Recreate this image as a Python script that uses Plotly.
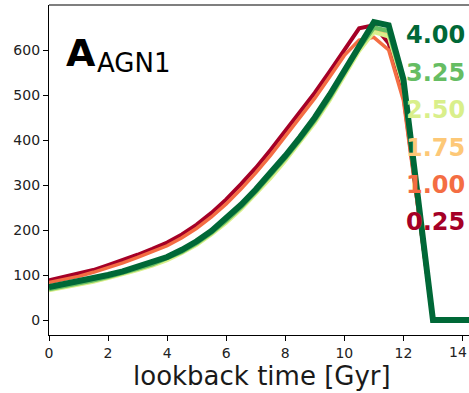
import plotly.graph_objects as go

# lookback time grid [Gyr]
t = [0, 0.5, 1, 1.5, 2, 2.5, 3, 3.5, 4, 4.5, 5, 5.5, 6, 6.5, 7, 7.5, 8, 8.5, 9, 9.5,
     10, 10.5, 11, 11.5, 12, 13, 14, 14.5]

params = ["0.25", "1.00", "1.75", "2.50", "3.25", "4.00"]
colors = ["#a50026", "#f46d43", "#fdc877", "#d9ef8b", "#66bd63", "#006837"]
widths = [4, 3.5, 3.5, 4, 4.5, 6]

s_025 = [88, 95, 102, 111, 122, 133, 145, 158, 172, 190, 212, 238, 268, 302, 338, 378,
         420, 462, 505, 552, 600, 648, 655, 615, 500, 0, 0, 0]
s_100 = [83, 90, 97, 106, 116, 127, 139, 151, 165, 183, 204, 229, 258, 291, 327, 366,
         408, 450, 493, 540, 588, 622, 628, 600, 488, 0, 0, 0]
s_175 = [72, 78, 84, 91, 99, 107, 117, 127, 140, 156, 175, 198, 225, 256, 290, 326,
         365, 406, 449, 499, 553, 608, 645, 632, 520, 0, 0, 0]
s_250 = [66, 72, 78, 85, 93, 101, 111, 121, 133, 149, 167, 190, 216, 246, 280, 315,
         354, 395, 438, 488, 542, 598, 640, 630, 522, 0, 0, 0]
s_325 = [69, 75, 81, 88, 96, 104, 114, 124, 137, 152, 171, 194, 221, 251, 285, 321,
         360, 401, 444, 494, 549, 604, 650, 642, 528, 0, 0, 0]
s_400 = [73, 79, 85, 92, 100, 108, 118, 128, 140, 156, 175, 198, 225, 256, 290, 326,
         365, 406, 450, 500, 555, 610, 662, 655, 535, 0, 0, 0]
series = [s_025, s_100, s_175, s_250, s_325, s_400]

label_y = [217, 300, 383, 467, 550, 633]

x_ticks = [0, 2, 4, 6, 8, 10, 12, 14]
y_ticks = [0, 100, 200, 300, 400, 500, 600]

fig = go.Figure()
for p, c, w, s in zip(params, colors, widths, series):
    fig.add_trace(go.Scatter(x=t, y=s, mode="lines", line=dict(color=c, width=w),
                             name=p, showlegend=False))

for p, c, ly in zip(params, colors, label_y):
    fig.add_annotation(x=12.02, y=ly, xref="x", yref="y", text="<b>%s</b>" % p,
                       showarrow=False, xanchor="left", yanchor="middle",
                       font=dict(family="DejaVu Sans", size=24, color=c))

fig.add_annotation(x=0.50, y=593, xref="x", yref="y", text="<b>A</b>", showarrow=False,
                   xanchor="left", yanchor="middle",
                   font=dict(family="DejaVu Sans", size=38, color="black"))
fig.add_annotation(x=1.55, y=571, xref="x", yref="y", text="AGN1", showarrow=False,
                   xanchor="left", yanchor="middle",
                   font=dict(family="DejaVu Sans", size=26, color="black"))

fig.add_annotation(x=7.2, y=-0.124, xref="x", yref="paper", text="lookback time [Gyr]",
                   showarrow=False, xanchor="center", yanchor="middle",
                   font=dict(family="DejaVu Sans", size=26, color="#1a1a1a"))

# last tick label sits on the right edge of the figure
fig.add_annotation(x=1.0, y=-0.052, xref="paper", yref="paper", text=str(x_ticks[-1]),
                   showarrow=False, xanchor="right", yanchor="middle",
                   font=dict(family="DejaVu Sans", size=14, color="#222222"))

fig.add_shape(type="line", xref="paper", yref="paper", x0=0, x1=1, y0=1, y1=1,
              line=dict(color="black", width=1.2))

fig.update_layout(
    width=469, height=393,
    margin=dict(l=49, r=0, t=5, b=58),
    plot_bgcolor="white", paper_bgcolor="white",
    font=dict(family="DejaVu Sans", size=14, color="#222222"),
)
fig.update_xaxes(range=[0, 14.22], tickvals=x_ticks,
                 showgrid=False, zeroline=False, showline=True, linecolor="black",
                 linewidth=1.2, ticks="outside", ticklen=5, tickcolor="black",
                 tickfont=dict(size=14))
fig.update_yaxes(range=[-33.3, 700], tickvals=y_ticks,
                 showgrid=False, zeroline=False, showline=True, linecolor="black",
                 linewidth=1.2, ticks="outside", ticklen=5, tickcolor="black",
                 tickfont=dict(size=14))

fig.write_html("out.html")
